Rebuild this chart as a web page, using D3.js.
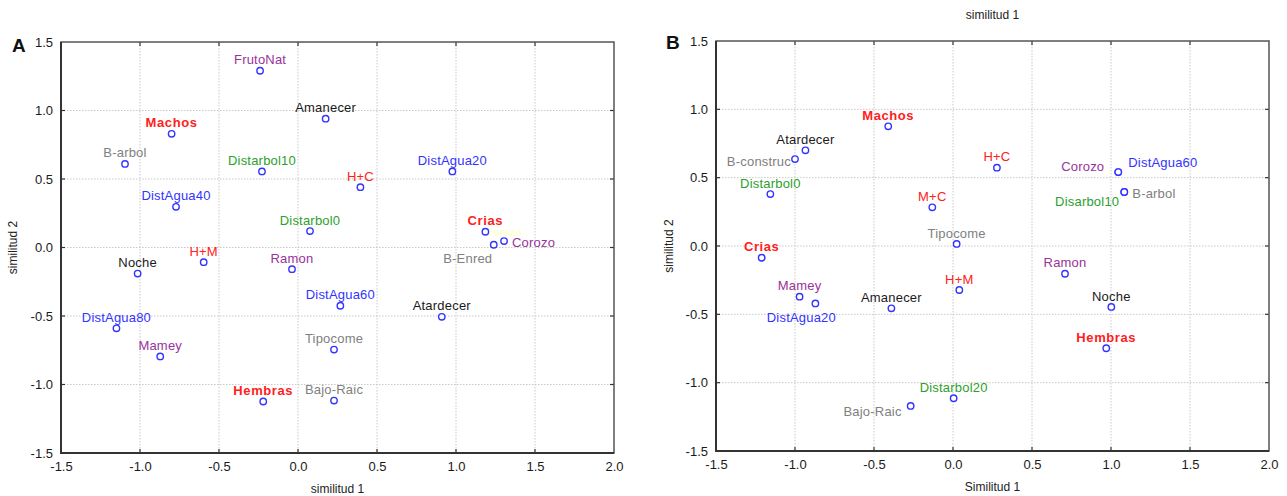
<!DOCTYPE html>
<html><head><meta charset="utf-8">
<script src="https://cdn.jsdelivr.net/npm/d3@7"></script>
<style>
body{margin:0;background:#fff;}
svg{display:block;font-family:"Liberation Sans",Arial,sans-serif;}
</style></head>
<body><svg id="c" width="1287" height="496"></svg>
<script>
// ---------- DATA ----------
const xTicks = [-1.5,-1.0,-0.5,0.0,0.5,1.0,1.5,2.0];
const yTicks = [-1.5,-1.0,-0.5,0.0,0.5,1.0,1.5];

// Panel A
const namesA = ["FrutoNat","Amanecer","Machos","B-arbol","Distarbol10","DistAgua40","Distarbol0","H+C","DistAgua20","Crias","B-Enred","Corozo","H+M","Noche","Ramon","DistAgua80","Mamey","Hembras","DistAgua60","Atardecer","Tipocome","Bajo-Raic"];
const xA = [-0.24,0.175,-0.80,-1.095,-0.228,-0.772,0.076,0.395,0.977,1.186,1.239,1.304,-0.597,-1.015,-0.038,-1.149,-0.872,-0.22,0.268,0.91,0.228,0.228];
const yA = [1.29,0.94,0.83,0.61,0.555,0.297,0.12,0.44,0.555,0.115,0.02,0.047,-0.107,-0.19,-0.158,-0.59,-0.795,-1.124,-0.425,-0.506,-0.745,-1.117];
const groupA = ["fruta","hora","sexo","sustrato","arbol","agua","arbol","combo","agua","sexo","sustrato","fruta","combo","hora","fruta","agua","fruta","sexo","agua","hora","sustrato","sustrato"];
const placeA = ["t","t","t","t","t","t","t","t","t","t","bl","r","t","t","t","t","t","t","t","t","t","t"];
const ghostA = {name:"Corozo", x:1.186, y:0.115};

// Panel B
const namesB = ["Machos","Atardecer","B-construc","Distarbol0","M+C","Tipocome","H+C","Corozo","DistAgua60","B-arbol","Disarbol10","Crias","Mamey","DistAgua20","Amanecer","H+M","Bajo-Raic","Distarbol20","Ramon","Noche","Hembras"];
const xB = [-0.41,-0.934,-1.0,-1.156,-0.131,0.023,0.278,1.046,1.046,1.084,1.084,-1.211,-0.971,-0.871,-0.39,0.04,-0.268,0.004,0.709,1.002,0.97];
const yB = [0.876,0.70,0.636,0.38,0.283,0.015,0.573,0.541,0.541,0.395,0.395,-0.086,-0.371,-0.42,-0.456,-0.322,-1.17,-1.114,-0.203,-0.446,-0.748];
const groupB = ["sexo","hora","sustrato","arbol","combo","sustrato","combo","fruta","agua","sustrato","arbol","sexo","fruta","agua","hora","combo","sustrato","arbol","fruta","hora","sexo"];
const placeB = ["t","t","l","t","t","t","t","tl","tr","r","bl2","t","t","b","t","t","lb","t","t","t","t"];

// ---------- STYLE ----------
const colors = {sexo:"#ff2020",combo:"#ff2020",agua:"#3333ff",arbol:"#2ca02c",fruta:"#993399",hora:"#1a1a1a",sustrato:"#808080"};
const place = {
  t:[0,-11,"middle"], r:[8,1,"start"], l:[-4,2,"end"], bl:[-26,14,"middle"],
  tl:[-14,-6,"end"], tr:[10,-10,"start"], bl2:[-5,9,"end"], b:[-14,14,"middle"], lb:[-9,6,"end"]
};

const svg = d3.select("#c");

function panel(cfg){
  const x = d3.scaleLinear().domain([-1.5,2.0]).range([cfg.left,cfg.right]);
  const y = d3.scaleLinear().domain([-1.5,1.5]).range([cfg.bottom,cfg.top]);
  const g = svg.append("g");

  // grid
  g.selectAll(".gx").data(xTicks.slice(1,-1)).join("line")
    .attr("x1",d=>x(d)).attr("x2",d=>x(d)).attr("y1",cfg.top).attr("y2",cfg.bottom)
    .attr("stroke","#c8c8c8").attr("stroke-dasharray","1.5,1.5").attr("stroke-width",1);
  g.selectAll(".gy").data(yTicks.slice(1,-1)).join("line")
    .attr("y1",d=>y(d)).attr("y2",d=>y(d)).attr("x1",cfg.left).attr("x2",cfg.right)
    .attr("stroke","#c8c8c8").attr("stroke-dasharray","1.5,1.5").attr("stroke-width",1);

  // axes
  const ax = d3.axisBottom(x).tickValues(xTicks).tickSize(0).tickPadding(9);
  const ay = d3.axisLeft(y).tickValues(yTicks).tickSize(0).tickPadding(8);
  const gx = g.append("g").attr("transform",`translate(0,${cfg.bottom})`).call(ax);
  const gy = g.append("g").attr("transform",`translate(${cfg.left},0)`).call(ay);
  [gx,gy].forEach(a=>{
    a.select(".domain").remove();
    a.selectAll("text").attr("font-size",13).attr("fill","#1a1a1a").attr("font-family","Liberation Sans, Arial, sans-serif")
      .text(function(d){return d3.format(".1f")(d).replace("−","-");});
  });

  // inner ticks on all four sides
  const tk = xTicks.slice(1,-1), tky = yTicks.slice(1,-1);
  g.selectAll(".tt").data(tk).join("line")
    .attr("x1",d=>x(d)).attr("x2",d=>x(d)).attr("y1",cfg.top).attr("y2",cfg.top+4)
    .attr("stroke","#333").attr("stroke-width",1.2);
  g.selectAll(".tb").data(tk).join("line")
    .attr("x1",d=>x(d)).attr("x2",d=>x(d)).attr("y1",cfg.bottom).attr("y2",cfg.bottom-4)
    .attr("stroke","#333").attr("stroke-width",1.2);
  g.selectAll(".tr").data(tky).join("line")
    .attr("y1",d=>y(d)).attr("y2",d=>y(d)).attr("x1",cfg.right).attr("x2",cfg.right-4)
    .attr("stroke","#333").attr("stroke-width",1.2);
  g.selectAll(".tl").data(tky).join("line")
    .attr("y1",d=>y(d)).attr("y2",d=>y(d)).attr("x1",cfg.left).attr("x2",cfg.left+4)
    .attr("stroke","#333").attr("stroke-width",1.2);

  // frame
  g.append("rect").attr("x",cfg.left).attr("y",cfg.top)
    .attr("width",cfg.right-cfg.left).attr("height",cfg.bottom-cfg.top)
    .attr("fill","none").attr("stroke","#555").attr("stroke-width",1.5);
  g.append("path").attr("d",`M${cfg.left},${cfg.top}V${cfg.bottom}H${cfg.right}`)
    .attr("fill","none").attr("stroke","#333").attr("stroke-width",2);

  const data = cfg.names.map((n,i)=>({n, x:cfg.xs[i], y:cfg.ys[i], g:cfg.groups[i], p:cfg.places[i]}));

  // ghost label (faint)
  if(cfg.ghost){
    g.append("text").attr("x",x(cfg.ghost.x)).attr("y",y(cfg.ghost.y)+0.5).attr("dy","0.35em")
      .attr("font-size",10).attr("letter-spacing","0.8").attr("fill","#ffffb8").attr("text-anchor","start").text(cfg.ghost.name);
  }

  // points
  g.selectAll(".pt").data(data).join("circle")
    .attr("cx",d=>x(d.x)).attr("cy",d=>y(d.y)).attr("r",3.2)
    .attr("fill","#fff").attr("stroke","#3333ff").attr("stroke-width",1.4);

  // labels
  g.selectAll(".lb").data(data).join("text")
    .attr("x",d=>x(d.x)+place[d.p][0]).attr("y",d=>y(d.y)+place[d.p][1]).attr("dy","0.35em")
    .attr("text-anchor",d=>place[d.p][2])
    .attr("font-size",13).attr("font-weight",d=>d.g==="sexo"?"bold":"normal")
    .attr("letter-spacing",d=>d.g==="sexo"?"0.6":"0.2")
    .attr("fill",d=>colors[d.g]).text(d=>d.n);

  // panel letter
  g.append("text").attr("x",cfg.letterX).attr("y",cfg.letterY).attr("dy","0.35em")
    .attr("font-size",19).attr("font-weight","bold").attr("fill","#111").text(cfg.letter);

  // axis titles
  g.append("text").attr("x",(cfg.left+cfg.right)/2).attr("y",cfg.xLabelY).attr("dy","0.35em")
    .attr("text-anchor","middle").attr("font-size",12).attr("fill","#222").text(cfg.xLabel);
  g.append("text").attr("transform",`translate(${cfg.yLabelX},${(cfg.top+cfg.bottom)/2}) rotate(-90)`)
    .attr("dy","0.35em").attr("text-anchor","middle").attr("font-size",12).attr("fill","#222").text("similitud 2");
  if(cfg.topTitle){
    g.append("text").attr("x",(cfg.left+cfg.right)/2).attr("y",15).attr("dy","0.35em")
      .attr("text-anchor","middle").attr("font-size",12).attr("fill","#222").text(cfg.topTitle);
  }
}

panel({left:61,right:614,top:42,bottom:453,names:namesA,xs:xA,ys:yA,groups:groupA,places:placeA,ghost:ghostA,
  letter:"A",letterX:12,letterY:45,xLabel:"similitud 1",xLabelY:489,yLabelX:13});
panel({left:716,right:1269,top:41,bottom:451,names:namesB,xs:xB,ys:yB,groups:groupB,places:placeB,
  letter:"B",letterX:666,letterY:42,xLabel:"Similitud 1",xLabelY:487,yLabelX:669,topTitle:"similitud 1"});
</script>
</body></html>
